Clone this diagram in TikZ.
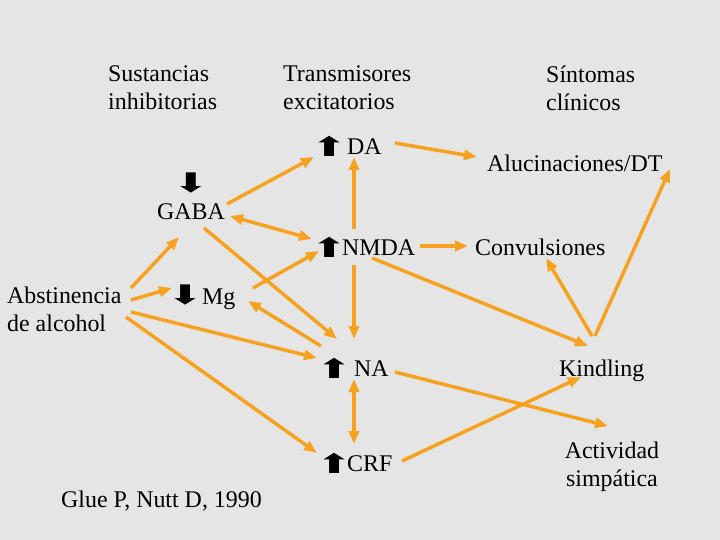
\documentclass[tikz,border=0pt]{standalone}
\usepackage{fontspec}
\setmainfont{Liberation Serif}
\newfontfamily\arrfont{DejaVu Sans}
\usetikzlibrary{arrows.meta,calc}
\definecolor{bggray}{RGB}{229,229,229}
\definecolor{arrorange}{RGB}{246,162,32}
\newcommand{\UpA}{\makebox[16bp]{\arrfont\fontsize{27}{27}\selectfont\raisebox{-2bp}{\scalebox{1.6}[1]{⬆}}}}
\newcommand{\DnA}{\makebox[16bp]{\arrfont\fontsize{27}{27}\selectfont\raisebox{0bp}{\scalebox{1.6}[1]{⬇}}}}
\begin{document}
\begin{tikzpicture}[x=1bp,y=-1bp,
  lbl/.style={inner sep=0pt, font=\fontsize{24}{28}\selectfont, anchor=west, text height=18bp, text depth=2bp},
  mlbl/.style={inner sep=0pt, font=\fontsize{24}{28}\selectfont, anchor=west, align=left},
  link/.style={draw=arrorange, line width=3.5bp, -{Triangle[length=13bp,width=10bp]}},
  both/.style={draw=arrorange, line width=3.5bp, {Triangle[length=13bp,width=10bp]}-{Triangle[length=13bp,width=10bp]}}]
\useasboundingbox (0,0) rectangle (720,540);
\fill[bggray] (0,0) rectangle (720,540);

% headings
\node[mlbl] (sust)  at (108,88) {Sustancias\\inhibitorias};
\node[mlbl] (trans) at (283,88) {Transmisores\\excitatorios};
\node[mlbl] (sint)  at (546,88) {Síntomas\\clínicos};

% nodes
\node[lbl] (da)   at (321,147) {\UpA\hspace{10bp}DA};
\node[lbl] (aluc) at (487,164) {Alucinaciones/DT};
\node[inner sep=0pt, font=\fontsize{24}{30}\selectfont, align=center] (gaba) at (191,196) {\DnA\\[-3bp]GABA};
\node[lbl] (nmda) at (321,248) {\UpA\hspace{5bp}NMDA};
\node[lbl] (conv) at (475,248) {Convulsiones};
\node[mlbl] (abst) at (7,309) {Abstinencia\\de alcohol};
\node[lbl] (mg)   at (177,296) {\DnA\hspace{9bp}Mg};
\node[lbl] (na)   at (326,368) {\UpA\hspace{12bp}NA};
\node[lbl] (kind) at (559,368) {Kindling};
\node[lbl] (crf)  at (326,463) {\UpA\hspace{5bp}CRF};
\node[inner sep=0pt, font=\fontsize{24}{28}\selectfont, align=center] (act) at (612,467) {Actividad\\simpática};
\node[lbl] (glue) at (61,499) {Glue P, Nutt D, 1990};

% connectors
\draw[link] ($(abst.west)+(124,-21)$) -- ($(gaba.center)+(-12,41)$);
\draw[link] ($(abst.west)+(124,-9)$)  -- ($(mg.west)+(-5,-8)$);
\draw[link] ($(abst.west)+(124,3)$)   -- ($(na.west)+(-9,-10)$);
\draw[link] ($(abst.west)+(119,8)$)   -- ($(crf.west)+(-9,-10)$);
\draw[link] ($(gaba.center)+(36,8)$)  -- ($(da.west)+(-7,10)$);
\draw[both] ($(gaba.center)+(39,20)$) -- ($(nmda.west)+(-9,-9)$);
\draw[link] ($(gaba.center)+(13,32)$) -- ($(na.west)+(11,-29)$);
\draw[link] ($(mg.west)+(76,-8)$)     -- ($(nmda.west)+(-2,3)$);
\draw[link] ($(na.west)+(-5,-22)$)    -- ($(mg.west)+(71,5)$);
\draw[link] ($(nmda.west)+(33,-19)$)  -- ($(da.west)+(33,10)$);
\draw[link] ($(nmda.west)+(33,17)$)   -- ($(na.west)+(28,-29)$);
\draw[both] ($(na.west)+(28,11)$)     -- ($(crf.west)+(28,-19)$);
\draw[link] ($(da.west)+(74,-4)$)     -- ($(aluc.west)+(-10,-7)$);
\draw[link] ($(nmda.west)+(99,-2)$)   -- ($(conv.west)+(-7,-2)$);
\draw[link] ($(nmda.west)+(51,10)$)   -- ($(kind.west)+(29,-22)$);
\draw[link] ($(kind.west)+(33,-32)$)  -- ($(conv.west)+(71,10)$);
\draw[link] ($(kind.west)+(36,-32)$)  -- ($(aluc.west)+(183,5)$);
\draw[link] ($(na.west)+(69,4)$)      -- ($(act.center)+(-4,-41)$);
\draw[link] ($(crf.west)+(76,-2)$)    -- ($(kind.west)+(22,9)$);
\end{tikzpicture}
\end{document}
